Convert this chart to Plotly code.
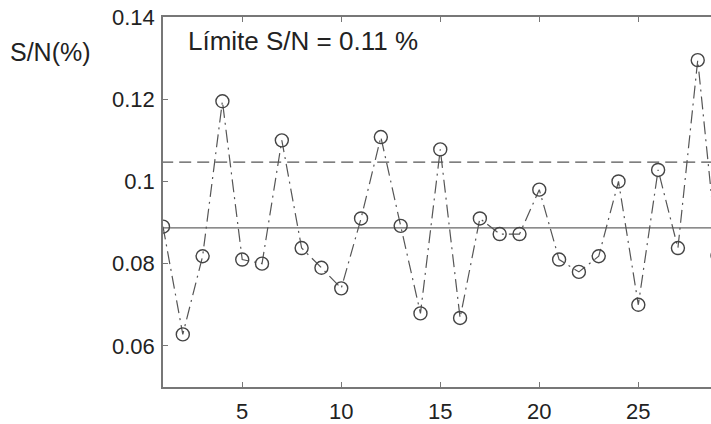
import plotly.graph_objects as go

sample = list(range(1, 30))
sn_values = [0.089, 0.0628, 0.0818, 0.1195, 0.081, 0.080, 0.110, 0.0838, 0.079, 0.074,
             0.091, 0.1108, 0.0892, 0.0679, 0.1078, 0.0668, 0.091, 0.0872, 0.0872, 0.098,
             0.081, 0.078, 0.0818, 0.100, 0.070, 0.1028, 0.0838, 0.1295, 0.082]
mean_line = 0.0887
upper_line = 0.1047
x_range = [1, 28.67]
y_range = [0.05, 0.14]
x_ticks = [5, 10, 15, 20, 25]
y_ticks = [0.06, 0.08, 0.1, 0.12, 0.14]
y_ticklabels = ["0.06", "0.08", "0.1", "0.12", "0.14"]

FONT = "Liberation Sans, Arial, sans-serif"
fig = go.Figure()

fig.add_trace(go.Scatter(x=[0, 31], y=[mean_line, mean_line], mode="lines",
                         line=dict(color="#666666", width=1.4), hoverinfo="skip", showlegend=False))
fig.add_trace(go.Scatter(x=[0, 31], y=[upper_line, upper_line], mode="lines",
                         line=dict(color="#555555", width=1.3, dash="12px,6px"), hoverinfo="skip", showlegend=False))
fig.add_trace(go.Scatter(x=sample, y=sn_values, mode="lines+markers",
                         line=dict(color="#555555", width=1.2, dash="13px,5px,2px,5px"),
                         marker=dict(symbol="circle-open", size=13, color="#444444", line=dict(width=1.4)),
                         showlegend=False, cliponaxis=True))
# invisible trace for the top (mirror) axis
fig.add_trace(go.Scatter(x=x_range, y=y_range, xaxis="x2", mode="markers",
                         marker=dict(opacity=0), hoverinfo="skip", showlegend=False))

fig.update_layout(
    width=711, height=424,
    margin=dict(l=163, r=0, t=17, b=30),
    paper_bgcolor="white", plot_bgcolor="white",
    font=dict(family=FONT, color="#222222", size=22),
    xaxis=dict(range=x_range, tickvals=x_ticks, ticks="inside", ticklen=5, tickcolor="#777777",
               showline=True, linecolor="#777777", linewidth=1.5, showgrid=False, zeroline=False,
               tickfont=dict(size=22), ticklabelstandoff=4),
    xaxis2=dict(range=x_range, overlaying="x", side="top", matches="x", tickvals=x_ticks,
                ticks="inside", ticklen=5, tickcolor="#777777", showticklabels=False,
                showline=True, linecolor="#777777", linewidth=1.5, showgrid=False, zeroline=False),
    yaxis=dict(range=y_range, tickvals=y_ticks, ticktext=y_ticklabels, ticks="inside", ticklen=5,
               tickcolor="#777777", showline=True, linecolor="#777777", linewidth=1.5,
               showgrid=False, zeroline=False, tickfont=dict(size=22), ticklabelstandoff=2),
    annotations=[
        dict(text="Límite S/N = 0.11 %", xref="paper", yref="paper", x=0.042, y=0.98,
             xanchor="left", yanchor="top", showarrow=False, font=dict(size=26, color="#222222")),
        dict(text="S/N(%)", xref="paper", yref="paper", x=-0.282, y=0.905,
             xanchor="left", yanchor="middle", showarrow=False, font=dict(size=25, color="#222222")),
    ],
)

fig.write_html("out.html")
